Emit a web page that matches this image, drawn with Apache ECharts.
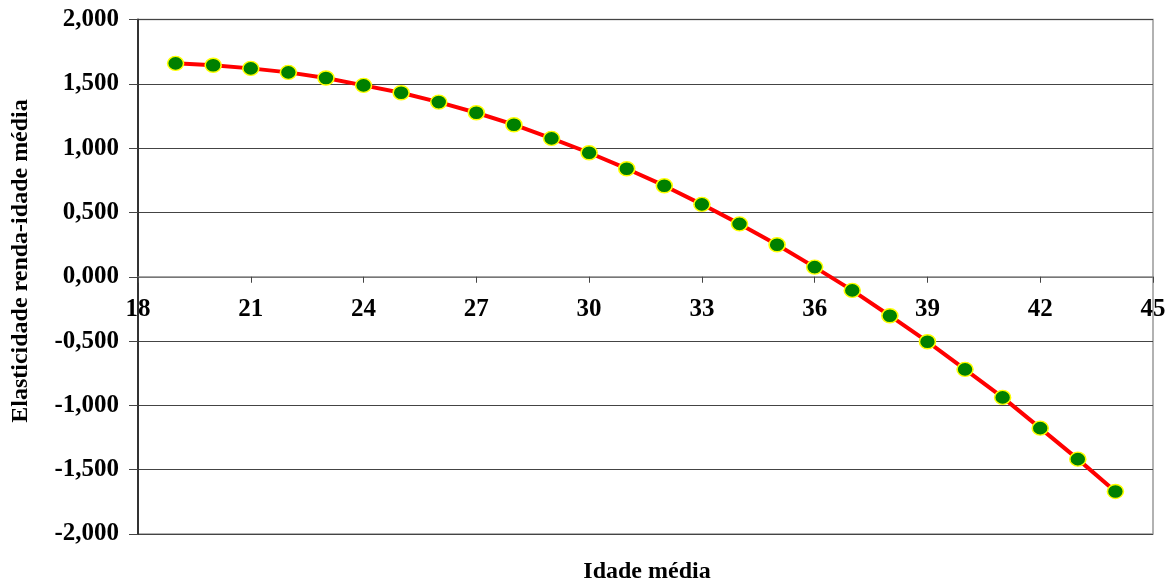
<!DOCTYPE html>
<html>
<head>
<meta charset="utf-8">
<script src="https://cdn.jsdelivr.net/npm/echarts@6/dist/echarts.min.js"></script>
<style>html,body{margin:0;padding:0;background:#fff;}#c{width:1173px;height:581px;}</style>
</head>
<body>
<div id="c"></div>
<script>
const ages = [19,20,21,22,23,24,25,26,27,28,29,30,31,32,33,34,35,36,37,38,39,40,41,42,43,44];
const elasticity = [1.659,1.644,1.620,1.589,1.545,1.488,1.431,1.358,1.275,1.182,1.076,0.964,0.840,0.708,0.563,0.411,0.249,0.075,-0.106,-0.303,-0.505,-0.720,-0.938,-1.177,-1.418,-1.669];
const xTitle = 'Idade média';
const yTitle = 'Elasticidade renda-idade média';

const font = '"Liberation Serif", "Times New Roman", serif';
const gridTop = 19.5, gridBottom = 47, H = 581;
const yMin = -2, yMax = 2;
const plotH = H - gridTop - gridBottom;
const zeroY = gridTop + plotH * (yMax - 0) / (yMax - yMin);
const xOffset = zeroY - (H - gridBottom);

const chart = echarts.init(document.getElementById('c'));
chart.setOption({
  animation: false,
  grid: {left: 138, right: 20, top: gridTop, bottom: gridBottom, show: true, borderColor: '#999', borderWidth: 1.5},
  xAxis: {
    type: 'value', min: 18, max: 45, interval: 3,
    offset: xOffset,
    axisLine: {onZero: false, lineStyle: {color: '#888', width: 1.5}},
    axisTick: {show: true, length: 6, lineStyle: {color: '#444'}},
    splitLine: {show: false},
    axisLabel: {color: '#000', fontFamily: font, fontWeight: 'bold', fontSize: 25, margin: 20}
  },
  yAxis: {
    type: 'value', min: yMin, max: yMax, interval: 0.5,
    axisLine: {show: true, lineStyle: {color: '#333', width: 2}},
    axisTick: {show: true, length: 9, lineStyle: {color: '#444'}},
    splitLine: {show: true, lineStyle: {color: '#444', width: 1.2}},
    axisLabel: {color: '#000', fontFamily: font, fontWeight: 'bold', fontSize: 25, margin: 19,
      formatter: v => v.toFixed(3).replace('.', ',')}
  },
  graphic: [{
    type: 'text', x: 647, y: 572,
    style: {text: xTitle, fill: '#000', font: 'bold 24px ' + font, textAlign: 'center', textVerticalAlign: 'middle'}
  }, {
    type: 'text', x: 21, y: 261, rotation: Math.PI / 2,
    style: {text: yTitle, fill: '#000', font: 'bold 24px ' + font, textAlign: 'center', textVerticalAlign: 'middle'}
  }],
  series: [{
    type: 'line',
    data: ages.map((a, i) => [a, elasticity[i]]),
    lineStyle: {color: '#ff0000', width: 4},
    symbol: 'circle', symbolSize: [16, 14],
    itemStyle: {color: '#008000', borderColor: '#ffff00', borderWidth: 1.5},
    z: 5
  }]
});
</script>
</body>
</html>
